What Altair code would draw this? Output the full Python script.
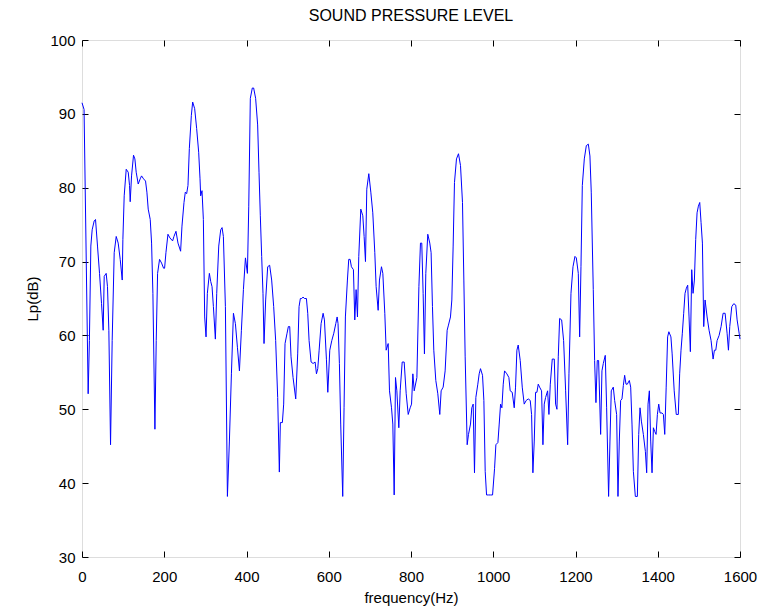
import altair as alt
import pandas as pd

freq = [0, 5, 15, 18, 21.5, 24.7, 29.6, 32.9, 37.7, 42.6, 47.5, 51.5, 54, 58.8, 62, 65.3, 69.4,
        73.4, 78.3, 83.2, 88, 92.9, 97.8, 99.4, 102.6, 107.5, 112.4, 115.6, 117.2, 120.5, 125.3,
        128.6, 131.8, 136.7, 141.5, 144.8, 149.7, 154.5, 157.8, 161, 165.9, 169.2, 172.4, 177.3,
        180.5, 183.8, 188.6, 193.5, 198.4, 200.8, 204.1, 209, 213.8, 220.3, 223.6, 228.5, 233.4,
        239.8, 243.1, 248, 251.2, 254.5, 257.7, 261, 265.9, 269.1, 274, 278.8, 283.7, 287, 288.6,
        291.8, 295.1, 298.3, 301.6, 304.8, 309.7, 313, 316.2, 319.5, 324.3, 327.6, 332.5, 337.3,
        340.6, 343.8, 348.7, 353.6, 358.4, 363.3, 368.2, 373, 377.9, 382.8, 387.6, 392.5, 397.4,
        402.2, 405.5, 409.3, 414.1, 417.4, 422.2, 427.1, 430.4, 433.6, 436.9, 440.1, 442.6, 446.6,
        451.5, 456.3, 461.2, 466.1, 470.9, 475.8, 479.9, 482.3, 487.2, 490.4, 493.7, 498.6, 501.8,
        505.1, 508.3, 513.2, 519.7, 524.5, 527.8, 531, 534.3, 537.5, 540.8, 545.7, 548.9, 552.2,
        557.1, 561.9, 566.8, 570.1, 573.3, 576.6, 581.4, 586.3, 589.5, 594.4, 597.7, 602.5, 607.4,
        612.3, 617.1, 620.4, 622.6, 625.9, 629.1, 634, 637.2, 640.5, 645.4, 648.6, 651.9, 655.1,
        660, 663.3, 666.5, 669.8, 673, 677.9, 682.8, 686, 689.3, 692.5, 697.4, 702.3, 707.1, 712,
        715.2, 720.1, 723.3, 728.2, 731.5, 736.3, 739.6, 744.5, 747.7, 752.6, 755.8, 759.1, 762.3,
        765.6, 770.4, 773.7, 778.6, 783.4, 788.3, 793.2, 798, 801.3, 804.5, 807.8, 814.3, 819.2,
        823, 826.2, 829.5, 832.7, 836, 840.8, 845.7, 848.9, 852.2, 855.4, 860.3, 865.2, 870,
        873.3, 878.2, 883, 887.9, 891.1, 896, 899.3, 902.5, 905.7, 910.6, 915.5, 920.4, 925.2,
        928.5, 931.7, 936.6, 939.8, 944.7, 947.9, 951.2, 954.4, 957.7, 962.5, 965.8, 969, 973.9,
        977.2, 980.4, 983.7, 988.5, 993.4, 998.3, 1003.2, 1006.4, 1011.3, 1014.5, 1017.8, 1021,
        1024.3, 1027.5, 1033.1, 1038, 1041.2, 1046.1, 1051, 1054.2, 1057.5, 1060.7, 1065.6,
        1070.5, 1075.3, 1080.2, 1085.1, 1089.9, 1093.2, 1096.4, 1099.7, 1102.9, 1106.2, 1109.4,
        1112.7, 1117.5, 1120.8, 1124, 1127.3, 1132.2, 1135.4, 1138.7, 1143.5, 1148.4, 1151.6,
        1154.9, 1158.1, 1161.4, 1166.3, 1171.1, 1176, 1180.9, 1184.1, 1189, 1193.9, 1198.7, 1202,
        1206.8, 1210.1, 1213.3, 1216.6, 1221.4, 1226.3, 1231.2, 1235.1, 1238.3, 1243.2, 1246.5,
        1249.7, 1252.9, 1256.2, 1261.1, 1264.3, 1267.6, 1272.4, 1275.7, 1280.5, 1283.8, 1287,
        1291.9, 1295.2, 1300, 1303.3, 1306.5, 1309.8, 1313, 1316.3, 1319.5, 1322.8, 1326, 1330.9,
        1334.2, 1337.4, 1340.7, 1345.5, 1350.4, 1353.7, 1356.9, 1360.2, 1365, 1369.9, 1373.1,
        1376.4, 1379.6, 1382.9, 1386.1, 1389.4, 1392.6, 1395.9, 1399.1, 1402.4, 1405.6, 1410.5,
        1413.7, 1417, 1420.5, 1424, 1427, 1432, 1435, 1440, 1445, 1450, 1453.3, 1456.6, 1459.8,
        1463.1, 1466.3, 1469.6, 1472.8, 1476.1, 1479.3, 1482.6, 1485.8, 1489.1, 1492.3, 1495.6,
        1498.8, 1502.1, 1505.3, 1508.6, 1511.8, 1515.1, 1520, 1524.8, 1529.7, 1534.6, 1537.8,
        1541.1, 1544.3, 1549.2, 1554, 1558.9, 1563.8, 1568.6, 1571.9, 1575.1, 1580, 1584.9,
        1589.7, 1593, 1597.9, 1600]

level = [91.5, 90.6, 52.1, 59.3, 72.1, 74.3, 75.5, 75.7, 72.1, 68.4, 64.3, 60.7, 68, 68.4, 66.6,
         60.7, 45.2, 59.3, 71.2, 73.4, 72.5, 70.3, 67.5, 73, 78.9, 82.5, 82.1, 80.3, 78.1, 81.6,
         84.4, 83.9, 82.1, 80.5, 81.2, 81.6, 81.2, 80.9, 79.4, 77.1, 75.7, 72.5, 65.7, 47.3, 59.3,
         68.4, 70.3, 69.8, 69.1, 69.1, 71.2, 73.7, 73.2, 72.8, 73.4, 74.1, 72.5, 71.4, 74.8, 78,
         79.4, 79.2, 80.3, 85.3, 89.8, 91.6, 90.7, 88, 84.8, 81.2, 78.9, 79.6, 75.7, 62.5, 59.8,
         65.7, 68.4, 67.3, 66.6, 63.9, 59.5, 65.7, 72.1, 74.3, 74.6, 73.4, 63.9, 38.2, 45.7, 54.8,
         63, 61.6, 58.4, 55.2, 60.7, 66.2, 70.5, 68.4, 77.5, 92.1, 93.5, 93.5, 92.1, 88.5, 82.1,
         76.2, 70.7, 65.7, 58.9, 64.8, 69.3, 69.5, 67.5, 63.9, 59.3, 51.6, 41.5, 48.2, 48.2, 50.7,
         58.9, 60.3, 61.2, 61.2, 57.1, 54.3, 51.4, 57.5, 63.9, 65, 65, 65.2, 65, 65, 63, 59.3, 56.4,
         56.2, 56.4, 54.8, 55.5, 58, 61.6, 63, 62.1, 56.7, 52.3, 58, 59.3, 60.3, 61.6, 62.5, 61.6,
         56.2, 48, 38.2, 50.2, 62.5, 67.5, 70.3, 70.3, 69.3, 68.9, 62.1, 66.2, 62.5, 70.7, 77.1,
         76.2, 73.4, 70, 79.8, 81.9, 79.4, 76.6, 71.2, 66.6, 63.4, 67.5, 69.3, 68.4, 63, 58, 58.9,
         52.5, 50.2, 48, 38.4, 54.3, 52.5, 47.5, 52.5, 56.4, 56.4, 52.1, 49.3, 50.2, 50.7, 54.8,
         52.5, 54.3, 66.6, 72.5, 72.5, 65.7, 57.5, 68.4, 73.7, 72.5, 71.2, 63.9, 58, 53.9, 52.1,
         49.3, 52.5, 53, 55.2, 60.7, 61.4, 62.5, 64.8, 72.1, 80.7, 83.9, 84.6, 83, 78, 67.5, 57.1,
         45.2, 46.6, 48, 50.2, 50.7, 41.4, 51.6, 53.4, 54.8, 55.5, 54.6, 51.2, 41.6, 38.4, 38.4,
         38.4, 38.4, 42, 45.2, 45.5, 48, 50.7, 50.2, 53.4, 55.2, 54.8, 54.3, 52.5, 52.3, 50.2, 53,
         58, 58.7, 56.6, 53, 50.7, 51.2, 51.4, 51.2, 49.3, 41.4, 45.7, 52.3, 52.3, 53.4, 53, 52.5,
         45.2, 50.7, 51.6, 52.5, 49.3, 53.4, 56.8, 56.8, 50.7, 50, 57.1, 62.3, 62.1, 59.3, 52.5,
         45.2, 54.8, 65.7, 69.3, 70.7, 70.5, 68.4, 59.8, 69.3, 80.3, 83.9, 85.7, 85.9, 84.3, 79.4,
         66.2, 56.6, 50.9, 56.6, 56.6, 46.6, 55.2, 56.2, 57.3, 50.2, 38.2, 45.7, 52.5, 53, 51.2,
         49.3, 38.2, 45.7, 51.2, 51.4, 53.2, 54.6, 53.4, 53.4, 53.9, 53, 48, 41.6, 38.2, 38.2,
         46.6, 50.2, 48.4, 46.6, 44.3, 41.4, 50.7, 52.5, 45.7, 41.4, 47.5, 47, 46.6, 49.3, 50.7,
         49.5, 49.5, 49.3, 46.6, 53, 59.8, 60.5, 59.8, 57.5, 52.5, 49.3, 49.3, 54.8, 58, 60.3, 63,
         65.7, 66.4, 66.8, 62.5, 57.8, 68.9, 65.7, 67.5, 73, 76.6, 77.5, 78, 75.3, 72.5, 61.2,
         64.8, 62.5, 60.7, 59.3, 56.8, 58, 58, 59.3, 60, 61.2, 63, 63, 60.3, 58, 61.2, 63.9, 64.3,
         64.1, 62.1, 60.3, 59.5]

x_ticks = [0, 200, 400, 600, 800, 1000, 1200, 1400, 1600]
y_ticks = [30, 40, 50, 60, 70, 80, 90, 100]

df = pd.DataFrame({"freq": freq, "level": level})

FONT = "Liberation Sans"
x_scale = alt.Scale(domain=[0, 1600], nice=False, zero=False)
y_scale = alt.Scale(domain=[30, 100], nice=False, zero=False)

common = dict(domain=False, grid=False, tickSize=6, tickColor="black", tickWidth=1,
              offset=-6, labelFont=FONT, labelFontSize=15, labelColor="black",
              labelFlush=False, format="d",
              titleFont=FONT, titleFontSize=15, titleColor="black", titleFontWeight="normal")

main = alt.Chart(df).mark_line(color="#0000ff", strokeWidth=1).encode(
    x=alt.X("freq:Q", scale=x_scale,
            axis=alt.Axis(orient="bottom", values=x_ticks, title="frequency(Hz)",
                          labelPadding=12, titlePadding=6, **common)),
    y=alt.Y("level:Q", scale=y_scale,
            axis=alt.Axis(orient="left", values=y_ticks, title="Lp(dB)",
                          labelPadding=7, titlePadding=9, **common)),
)

mirror = alt.Chart(df).mark_line(color="#0000ff", strokeWidth=1, opacity=0).encode(
    x=alt.X("freq:Q", scale=x_scale,
            axis=alt.Axis(orient="top", values=x_ticks, title="", labels=False, **common)),
    y=alt.Y("level:Q", scale=y_scale,
            axis=alt.Axis(orient="right", values=y_ticks, title="", labels=False, **common)),
)

chart = alt.layer(main, mirror).resolve_axis(x="independent", y="independent").properties(
    width=658,
    height=517,
    autosize=alt.AutoSizeParams(type="none"),
    padding={"left": 74, "top": 32, "right": 18, "bottom": 51},
    title=alt.TitleParams("SOUND PRESSURE LEVEL", font=FONT, fontSize=16, fontWeight="normal",
                          color="black", anchor="middle", offset=9),
).configure_view(stroke="black", strokeWidth=1).configure(background="white")

chart.save("out.html", embed_options={"renderer": "svg", "actions": False})
